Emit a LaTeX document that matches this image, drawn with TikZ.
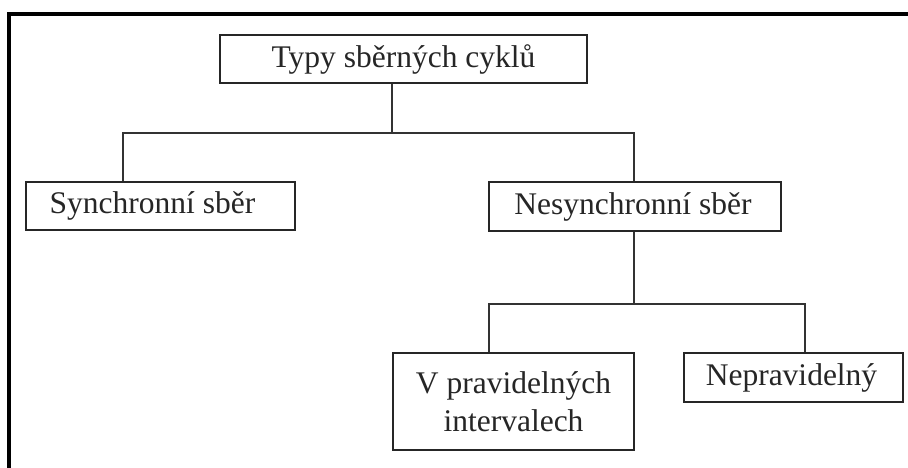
\documentclass[tikz,border=0pt]{standalone}
\usepackage{fontspec}
\setmainfont{Liberation Serif}
\begin{document}
\begin{tikzpicture}[x=1pt,y=-1pt,
  box/.style={draw=black!85, line width=1.6pt, inner sep=0pt, anchor=center,
    font=\fontsize{31.5}{38}\selectfont, text=black!85},
  conn/.style={draw=black!80, line width=1.4pt},
  frame/.style={draw=black, line width=3.5pt}]
\useasboundingbox (0,0) rectangle (908,467);
\fill[white] (0,0) rectangle (908,467);
\draw[frame] (9,470) -- (9,14) -- (912,14);

\node[box, minimum width=367pt, minimum height=48pt] (top) at (403.5,59) {Typy sběrných cyklů};
\node[box, minimum width=269pt, minimum height=48pt] (sync) at (160.5,206) {Synchronní sběr\hspace*{16pt}};
\node[box, minimum width=292pt, minimum height=49pt] (nsync) at (635,206.5) {Nesynchronní sběr\hspace*{4pt}};
\node[box, minimum width=241pt, minimum height=97pt, align=center] (vprav) at (513.5,401.5) {V pravidelných\\intervalech};
\node[box, minimum width=219pt, minimum height=49pt] (neprav) at (793.5,377.5) {Nepravidelný\hspace*{4pt}};

\coordinate (j0) at (392,133);
\coordinate (jl) at (123,133);
\coordinate (jr) at (634,133);
\coordinate (k0) at (634,304);
\coordinate (kl) at (489,304);
\coordinate (kr) at (805,304);

\draw[conn] (top.south -| j0) -- (j0);
\draw[conn] (jl |- sync.north) -- (jl) -- (jr) -- (jr |- nsync.north);
\draw[conn] (nsync.south -| k0) -- (k0);
\draw[conn] (kl |- vprav.north) -- (kl) -- (kr) -- (kr |- neprav.north);
\end{tikzpicture}
\end{document}
